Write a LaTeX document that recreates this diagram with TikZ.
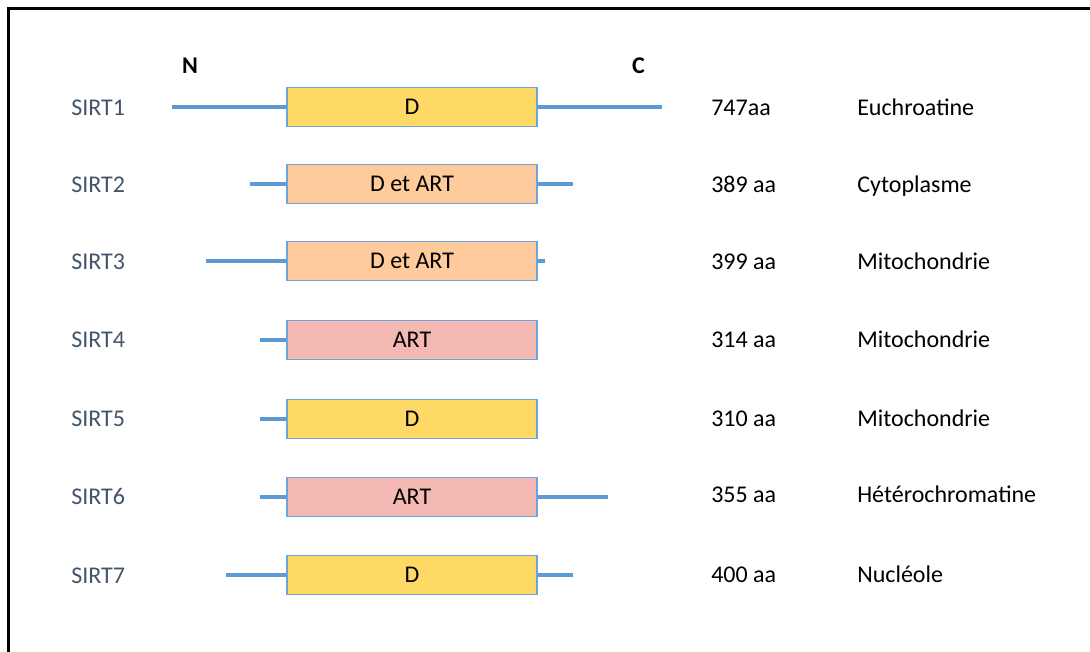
\documentclass[tikz,border=0pt]{standalone}
\usepackage{fontspec}
\setmainfont{Carlito}
\usetikzlibrary{backgrounds}
\definecolor{lineblue}{HTML}{5B9BD5}
\definecolor{edgeblue}{HTML}{6FA3DC}
\definecolor{dyellow}{HTML}{FFD966}
\definecolor{dpeach}{HTML}{FFCA9C}
\definecolor{dpink}{HTML}{F4B9B2}
\definecolor{labgray}{HTML}{44546A}
\begin{document}
\begin{tikzpicture}[x=0.75pt,y=-0.75pt,
  dom/.style={draw=edgeblue, line width=1.1pt, minimum width=187.5pt, minimum height=29.25pt, inner sep=0pt, font=\fontsize{18}{20}\selectfont},
  chain/.style={draw=lineblue, line width=3.6pt},
  txt/.style={anchor=base west, inner sep=0pt, font=\fontsize{18}{20}\selectfont},
  lab/.style={txt, text=labgray},
  term/.style={anchor=base, inner sep=0pt, font=\fontsize{18}{20}\selectfont\bfseries}]
\useasboundingbox (0,0) rectangle (1090,652);
\draw[line width=1.9pt, black] (1090,8.5) -- (8.5,8.5) -- (8.5,652);
\node[term] (N) at (190,73.5) {N};
\node[term] (C) at (638.5,73.5) {C};
% boxes
\node[dom, fill=dyellow] (b1) at (412,107) {D};
\node[dom, fill=dpeach] (b2) at (412,184) {D et ART};
\node[dom, fill=dpeach] (b3) at (412,261) {D et ART};
\node[dom, fill=dpink] (b4) at (412,340) {ART};
\node[dom, fill=dyellow] (b5) at (412,419) {D};
\node[dom, fill=dpink] (b6) at (412,497) {ART};
\node[dom, fill=dyellow] (b7) at (412,575) {D};
% free ends
\coordinate (l1) at (172,107); \coordinate (r1) at (662,107);
\coordinate (l2) at (250,184); \coordinate (r2) at (573,184);
\coordinate (l3) at (206,261); \coordinate (r3) at (545,261);
\coordinate (l4) at (260,340);
\coordinate (l5) at (260,419);
\coordinate (l6) at (260,497); \coordinate (r6) at (608,497);
\coordinate (l7) at (226,575); \coordinate (r7) at (573,575);
\begin{scope}[on background layer]
\draw[chain] (l1) -- (b1.west); \draw[chain] (b1.east) -- (r1);
\draw[chain] (l2) -- (b2.west); \draw[chain] (b2.east) -- (r2);
\draw[chain] (l3) -- (b3.west); \draw[chain] (b3.east) -- (r3);
\draw[chain] (l4) -- (b4.west);
\draw[chain] (l5) -- (b5.west);
\draw[chain] (l6) -- (b6.west); \draw[chain] (b6.east) -- (r6);
\draw[chain] (l7) -- (b7.west); \draw[chain] (b7.east) -- (r7);
\end{scope}
% labels
\node[lab] (s1) at (71,116) {SIRT1};
\node[lab] (s2) at (71,193) {SIRT2};
\node[lab] (s3) at (71,270) {SIRT3};
\node[lab] (s4) at (71,348) {SIRT4};
\node[lab] (s5) at (71,427) {SIRT5};
\node[lab] (s6) at (71,504) {SIRT6};
\node[lab] (s7) at (71,583) {SIRT7};
\node[txt] (a1) at (711,116) {747aa};
\node[txt] (a2) at (711,193) {389 aa};
\node[txt] (a3) at (711,270) {399 aa};
\node[txt] (a4) at (711,348) {314 aa};
\node[txt] (a5) at (711,427) {310 aa};
\node[txt] (a6) at (711,503) {355 aa};
\node[txt] (a7) at (711,582) {400 aa};
\node[txt] (c1) at (857,116) {Euchroatine};
\node[txt] (c2) at (857,193) {Cytoplasme};
\node[txt] (c3) at (857,270) {Mitochondrie};
\node[txt] (c4) at (857,348) {Mitochondrie};
\node[txt] (c5) at (857,427) {Mitochondrie};
\node[txt] (c6) at (857,503) {Hétérochromatine};
\node[txt] (c7) at (857,582) {Nucléole};
\end{tikzpicture}
\end{document}
